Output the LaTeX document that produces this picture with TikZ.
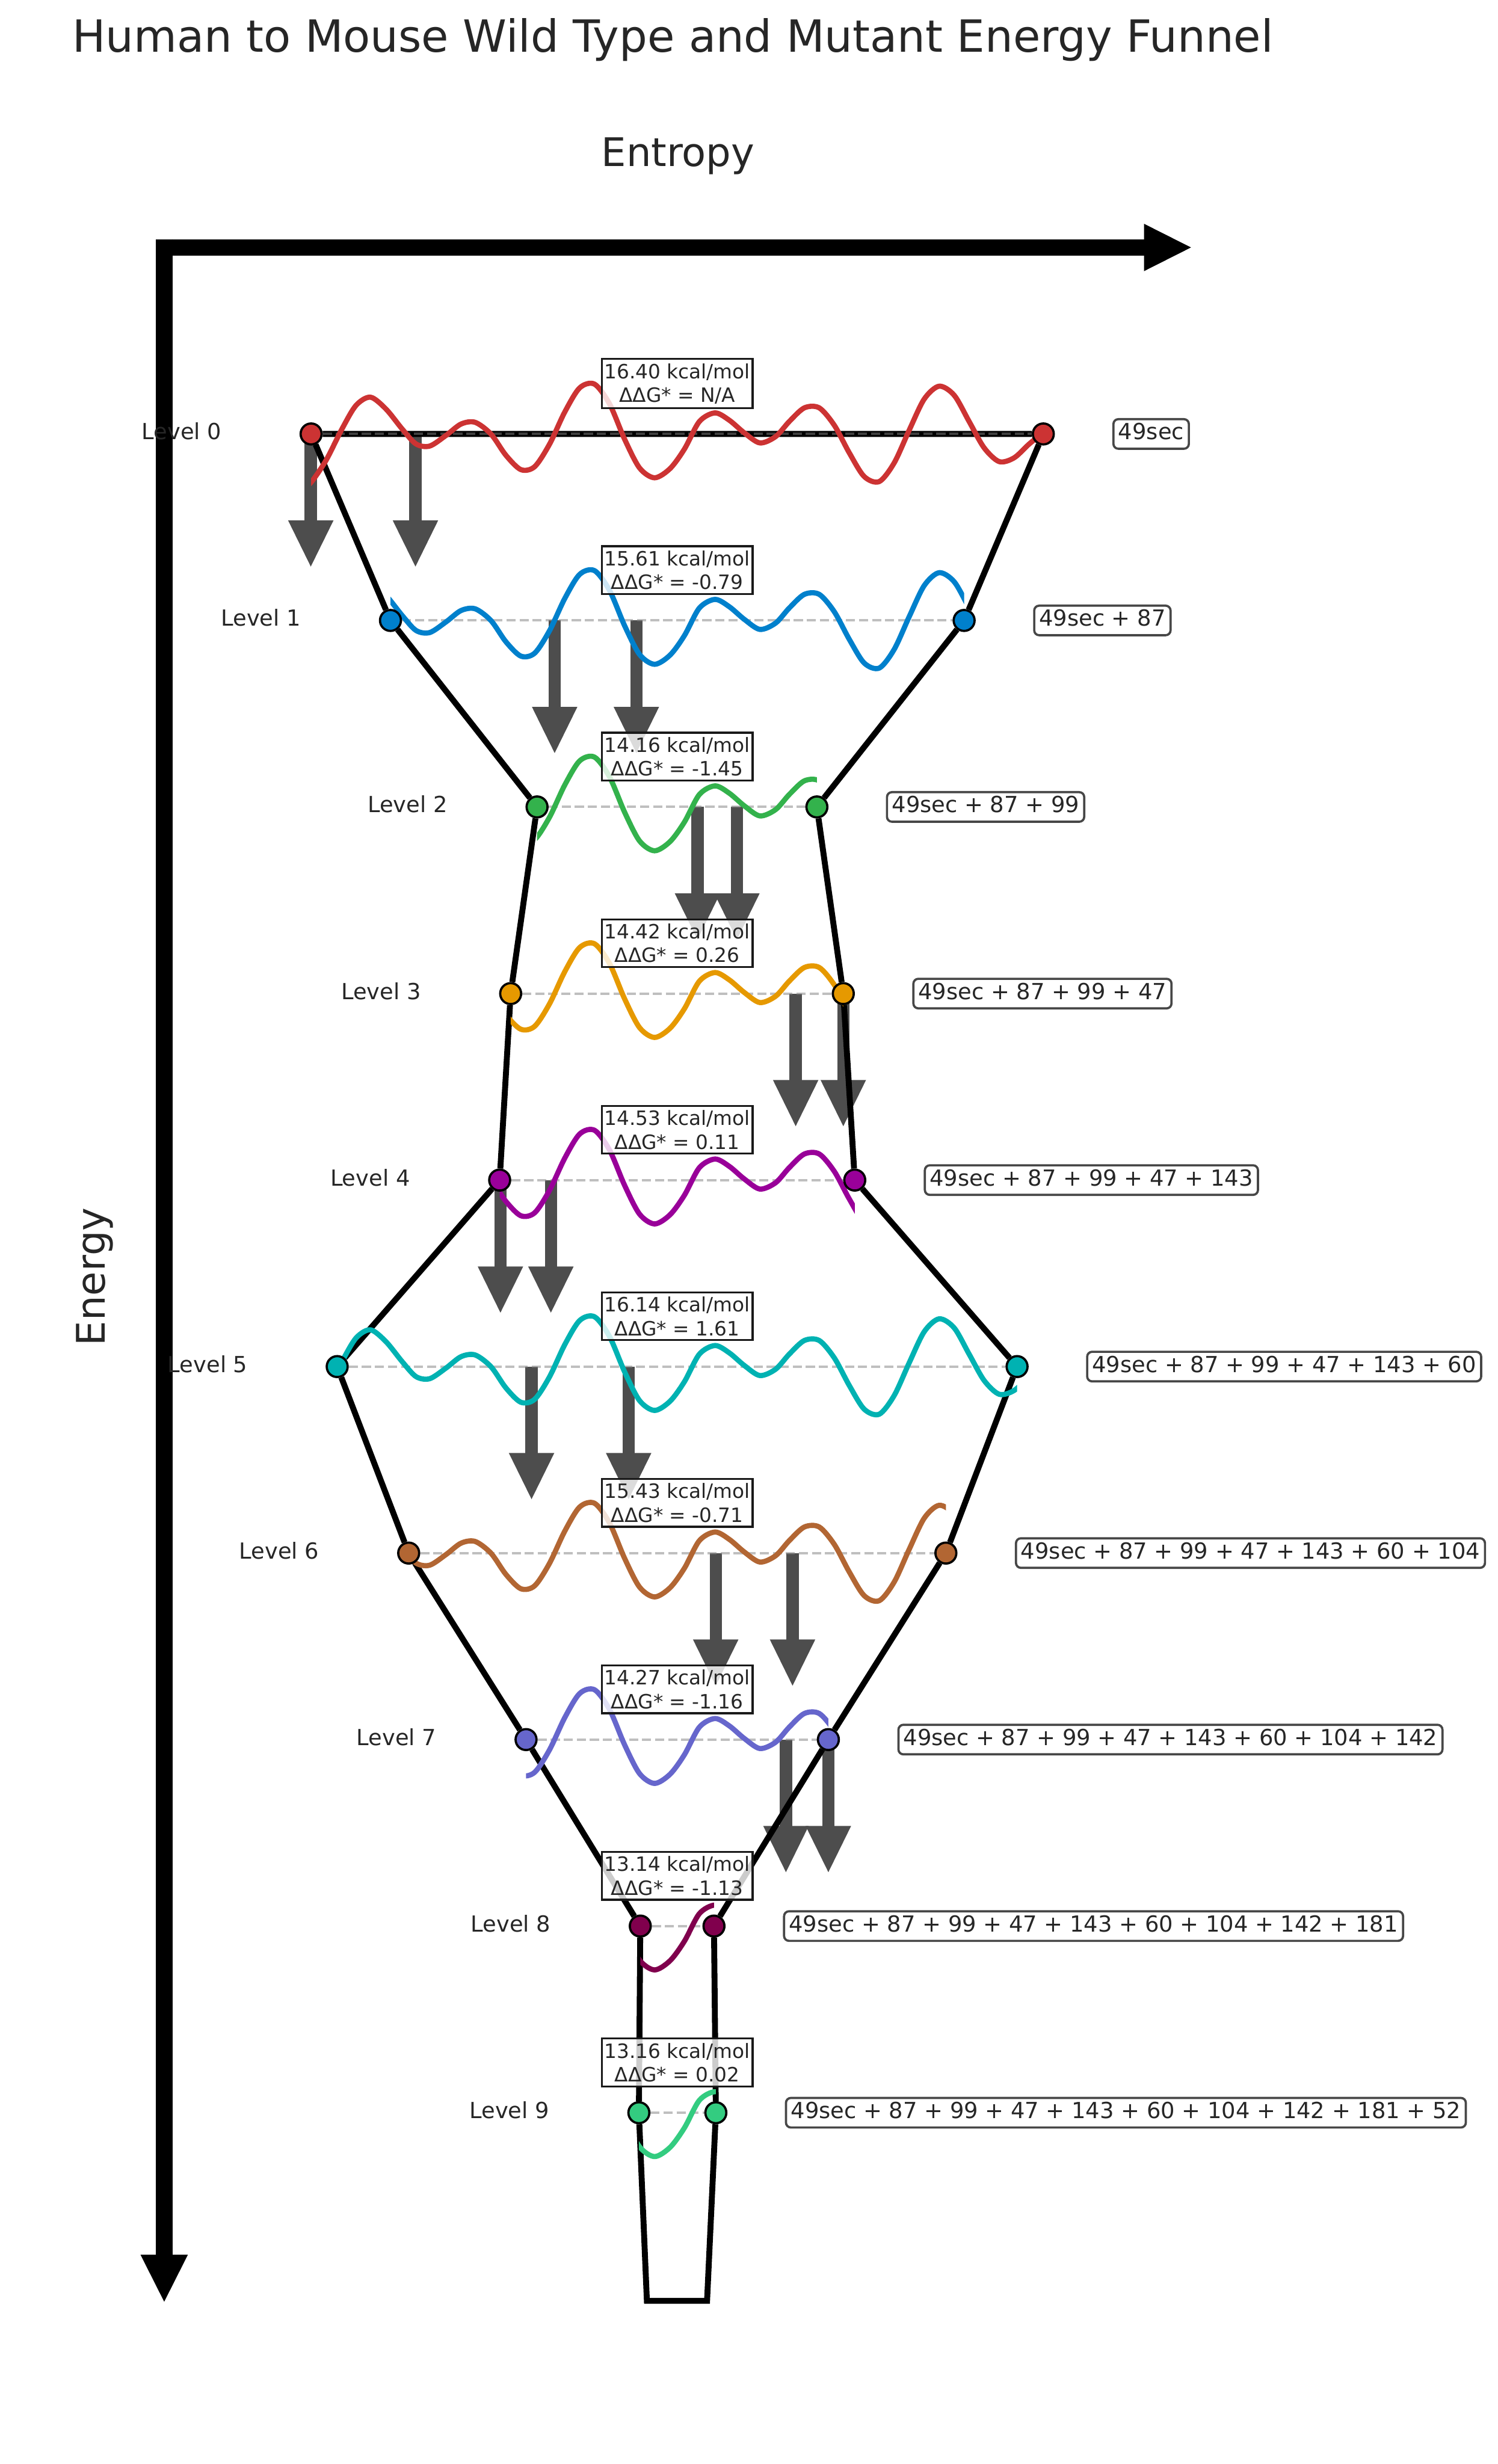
\documentclass[tikz,border=0pt]{standalone}
\usepackage{fontspec}
\setmainfont{DejaVu Sans}
\usetikzlibrary{arrows.meta,positioning,backgrounds}
\definecolor{TxtGray}{RGB}{38,38,38}
\definecolor{DropGray}{RGB}{77,77,77}
\definecolor{LvRed}{RGB}{204,51,51}
\definecolor{LvBlue}{RGB}{0,128,204}
\definecolor{LvGreen}{RGB}{51,178,76}
\definecolor{LvOrange}{RGB}{230,153,0}
\definecolor{LvPurple}{RGB}{153,0,153}
\definecolor{LvTeal}{RGB}{0,178,178}
\definecolor{LvBrown}{RGB}{178,102,51}
\definecolor{LvSlate}{RGB}{102,102,204}
\definecolor{LvMaroon}{RGB}{128,0,77}
\definecolor{LvMint}{RGB}{51,204,128}

\tikzset{
  state/.style={circle,draw=black,line width=0.9pt,inner sep=0pt,minimum size=8.5pt},
  lvlabel/.style={font=\fontsize{9}{10.8}\selectfont,text=TxtGray,inner sep=0pt,text height=6.84pt,text depth=2.16pt},
  seqbox/.style={draw=black!72,line width=0.9pt,rounded corners=2pt,fill=white,font=\fontsize{9}{10.8}\selectfont,
    text=TxtGray,inner xsep=2pt,inner ysep=1.5pt,text height=6.84pt,text depth=2.16pt},
  dgbox/.style={draw=black!90,line width=0.8pt,fill=white,fill opacity=0.8,text opacity=1,draw opacity=1,
    font=\fontsize{8}{9.6}\selectfont,text=TxtGray,align=center,inner xsep=1pt,inner ysep=1.8pt},
  funnel/.style={black,line width=2.4pt},
  guide/.style={gray,opacity=0.5,line width=1pt,dash pattern=on 3.7pt off 1.6pt},
  wave/.style={line width=2.1pt,line cap=round,line join=round},
  drop/.style={DropGray,line width=4.96pt,-{Triangle[length=18.75pt,width=18.3pt,line width=0.6pt]}},
  axisarrow/.style={black,line width=6.67pt,-{Triangle[length=19.1pt,width=19.1pt,line width=0.6pt]}}
}

% one wave, offsets from the level line
\newcommand{\foldwave}[1]{\draw[wave,#1] plot[smooth] coordinates {(190,37) (197.7,31.1) (207.5,16.8)
  (217.6,-3.1) (226.6,-18.2) (235.8,-23.4) (245.7,-15.8) (256,-3.1) (264.8,6.4) (273.5,7.7) (283.9,0.9)
  (293.4,-6.3) (302.4,-7.4) (312.5,0.1) (322,13.6) (331.5,22.7) (340.3,20.8) (349.8,6.4) (359.4,-13.9)
  (368.9,-29.3) (378.4,-31.7) (388,-19) (397.5,3.3) (407,21.6) (416.6,27.9) (426.5,22) (435.6,9.6)
  (445.1,-7.9) (455.1,-13.4) (464.2,-8.7) (473.7,-0.7) (483.6,5.7) (493.6,1.7) (502.3,-7.9) (511.9,-16.6)
  (521.4,-16.6) (531,-5.5) (540.5,12) (550,27.1) (559.6,30.3) (569.1,18.4) (578.6,-2.3) (588.2,-22.2)
  (597.7,-30.4) (607.3,-24.6) (616.8,-7.9) (626.3,8.8) (635.9,17.6) (645.4,15.2) (655,6.4) (664,-1) (672,-8)};}

\begin{document}
\begin{tikzpicture}[x=0.022415cm,y=-0.022415cm]
\useasboundingbox (0,0) rectangle (953,1568.3);

% title and axes
\node[anchor=base west,font=\fontsize{18}{21.6}\selectfont,text=TxtGray,inner sep=0pt] (title) at (45.8,33)
  {Human to Mouse Wild Type and Mutant Energy Funnel};
\node[anchor=base,font=\fontsize{16}{19.2}\selectfont,text=TxtGray,inner sep=0pt] (xlab) at (431.5,106) {Entropy};
\node[rotate=90,font=\fontsize{16}{19.2}\selectfont,text=TxtGray,inner sep=0pt] (ylab) at (60.4,812.6) {Energy};
\coordinate (corner) at (99.5,157.5);
\coordinate (xend) at (758,157.5);
\coordinate (ytop) at (104.5,152.25);
\coordinate (yend) at (104.5,1465);
\draw[axisarrow] (corner) -- (xend);
\draw[axisarrow] (ytop) -- (yend);

% level states
\node[state,fill=LvRed] (lv0L) at (198,276.2) {};
\node[state,fill=LvRed] (lv0R) at (664,276.2) {};
\node[state,fill=LvBlue] (lv1L) at (248.5,394.9) {};
\node[state,fill=LvBlue] (lv1R) at (613.6,394.9) {};
\node[state,fill=LvGreen] (lv2L) at (341.8,513.6) {};
\node[state,fill=LvGreen] (lv2R) at (519.9,513.6) {};
\node[state,fill=LvOrange] (lv3L) at (325,632.4) {};
\node[state,fill=LvOrange] (lv3R) at (536.7,632.4) {};
\node[state,fill=LvPurple] (lv4L) at (318,751.1) {};
\node[state,fill=LvPurple] (lv4R) at (544,751.1) {};
\node[state,fill=LvTeal] (lv5L) at (214.6,869.8) {};
\node[state,fill=LvTeal] (lv5R) at (647.3,869.8) {};
\node[state,fill=LvBrown] (lv6L) at (260.1,988.5) {};
\node[state,fill=LvBrown] (lv6R) at (602,988.5) {};
\node[state,fill=LvSlate] (lv7L) at (334.8,1107.2) {};
\node[state,fill=LvSlate] (lv7R) at (527.2,1107.2) {};
\node[state,fill=LvMaroon] (lv8L) at (407.5,1225.9) {};
\node[state,fill=LvMaroon] (lv8R) at (454.4,1225.9) {};
\node[state,fill=LvMint] (lv9L) at (406.6,1344.7) {};
\node[state,fill=LvMint] (lv9R) at (455.6,1344.7) {};
\coordinate (botL) at (411.7,1464.4);
\coordinate (botR) at (450,1464.4);

% level names
\node[lvlabel,left=31.5pt of lv0L] (lab0) {Level 0};
\node[lvlabel,left=31.5pt of lv1L] (lab1) {Level 1};
\node[lvlabel,left=31.5pt of lv2L] (lab2) {Level 2};
\node[lvlabel,left=31.5pt of lv3L] (lab3) {Level 3};
\node[lvlabel,left=31.5pt of lv4L] (lab4) {Level 4};
\node[lvlabel,left=31.5pt of lv5L] (lab5) {Level 5};
\node[lvlabel,left=31.5pt of lv6L] (lab6) {Level 6};
\node[lvlabel,left=31.5pt of lv7L] (lab7) {Level 7};
\node[lvlabel,left=31.5pt of lv8L] (lab8) {Level 8};
\node[lvlabel,left=31.5pt of lv9L] (lab9) {Level 9};

% sequences
\node[seqbox,right=23.3pt of lv0R] (seq0) {49sec};
\node[seqbox,right=23.3pt of lv1R] (seq1) {49sec + 87};
\node[seqbox,right=23.3pt of lv2R] (seq2) {49sec + 87 + 99};
\node[seqbox,right=23.3pt of lv3R] (seq3) {49sec + 87 + 99 + 47};
\node[seqbox,right=23.3pt of lv4R] (seq4) {49sec + 87 + 99 + 47 + 143};
\node[seqbox,right=23.3pt of lv5R] (seq5) {49sec + 87 + 99 + 47 + 143 + 60};
\node[seqbox,right=23.3pt of lv6R] (seq6) {49sec + 87 + 99 + 47 + 143 + 60 + 104};
\node[seqbox,right=23.3pt of lv7R] (seq7) {49sec + 87 + 99 + 47 + 143 + 60 + 104 + 142};
\node[seqbox,right=23.3pt of lv8R] (seq8) {49sec + 87 + 99 + 47 + 143 + 60 + 104 + 142 + 181};
\node[seqbox,right=23.3pt of lv9R] (seq9) {49sec + 87 + 99 + 47 + 143 + 60 + 104 + 142 + 181 + 52};

% energies
\node[dgbox] (dg0) at (431,244.2) {16.40 kcal/mol\\ΔΔG* = N/A};
\node[dgbox] (dg1) at (431,362.9) {15.61 kcal/mol\\ΔΔG* = -0.79};
\node[dgbox] (dg2) at (431,481.6) {14.16 kcal/mol\\ΔΔG* = -1.45};
\node[dgbox] (dg3) at (431,600.4) {14.42 kcal/mol\\ΔΔG* = 0.26};
\node[dgbox] (dg4) at (431,719.1) {14.53 kcal/mol\\ΔΔG* = 0.11};
\node[dgbox] (dg5) at (431,837.8) {16.14 kcal/mol\\ΔΔG* = 1.61};
\node[dgbox] (dg6) at (431,956.5) {15.43 kcal/mol\\ΔΔG* = -0.71};
\node[dgbox] (dg7) at (431,1075.2) {14.27 kcal/mol\\ΔΔG* = -1.16};
\node[dgbox] (dg8) at (431,1193.9) {13.14 kcal/mol\\ΔΔG* = -1.13};
\node[dgbox] (dg9) at (431,1312.7) {13.16 kcal/mol\\ΔΔG* = 0.02};

\begin{pgfonlayer}{background}
  % transitions between levels
  \foreach \i/\x/\y in {0/197.8/276.2, 1/264.4/276.2, 2/353/394.9, 3/405/394.9, 4/443.9/513.6, 5/469/513.6,
      6/506.4/632.4, 7/536.7/632.4, 8/318.5/751.1, 9/350.6/751.1, 10/338.3/869.8, 11/400.1/869.8,
      12/455.5/988.5, 13/504.4/988.5, 14/500.2/1107.2, 15/527.2/1107.2}{
    \coordinate (drop\i a) at (\x,\y);
    \coordinate (drop\i b) at (\x,\y+84.4);
    \draw[drop] (drop\i a) -- (drop\i b);
  }
  % funnel outline
  \draw[funnel] (lv0L) -- (lv1L) -- (lv2L) -- (lv3L) -- (lv4L) -- (lv5L) -- (lv6L) -- (lv7L) -- (lv8L) -- (lv9L)
    -- (botL) -- (botR) -- (lv9R) -- (lv8R) -- (lv7R) -- (lv6R) -- (lv5R) -- (lv4R) -- (lv3R) -- (lv2R)
    -- (lv1R) -- (lv0R) -- (lv0L);
  \foreach \k in {0,...,9}{
    \draw[guide] (lv\k L) -- (lv\k R);
  }
  % landscapes
  \foreach \k/\y/\c in {0/276.2/LvRed, 1/394.9/LvBlue, 2/513.6/LvGreen, 3/632.4/LvOrange, 4/751.1/LvPurple,
      5/869.8/LvTeal, 6/988.5/LvBrown, 7/1107.2/LvSlate, 8/1225.9/LvMaroon, 9/1344.7/LvMint}{
    \begin{scope}
      \clip ([yshift=-1cm]lv\k L.center) rectangle ([yshift=1cm]lv\k R.center);
      \foldwave{\c,shift={(0,\y)}}
    \end{scope}
  }
\end{pgfonlayer}
\end{tikzpicture}
\end{document}
